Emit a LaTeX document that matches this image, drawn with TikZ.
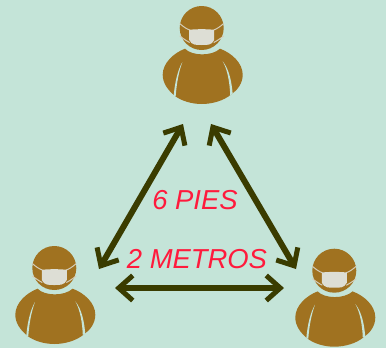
\documentclass[tikz,border=0pt]{standalone}
\usepackage{fontspec}
\setmainfont{Liberation Sans}
\usetikzlibrary{arrows.meta}
\definecolor{bgc}{HTML}{C4E4D8}
\definecolor{brownc}{HTML}{A07220}
\definecolor{maskc}{HTML}{DDDED5}
\definecolor{arrowc}{HTML}{3A3C00}
\definecolor{redc}{HTML}{FF1A3C}
\tikzset{
  x=1pt,y=-1pt,
  person/.pic={
    \fill[brownc] (0,0) circle[radius=22];
    \fill[brownc] (-16.7,20.7) .. controls (-10,28) and (10,28.5) .. (18.3,20.7)
      .. controls (30,25) and (41,35) .. (41,46.7)
      .. controls (41,55) and (36,62) .. (30,66)
      .. controls (22,73) and (10,76) .. (0,76)
      .. controls (-10,76) and (-20,73) .. (-26.7,68)
      .. controls (-34,62) and (-39,55) .. (-39,46.7)
      .. controls (-39,35) and (-28,25) .. (-16.7,20.7) -- cycle;
    \fill[bgc] (-19.3,34) .. controls (-24,42) and (-27,55) .. (-28,68)
      -- (-26,68) .. controls (-25,55) and (-23,44) .. (-19.3,34) -- cycle;
    \fill[bgc] (21,33.3) .. controls (26,42) and (28,55) .. (28.5,67)
      -- (31,66) .. controls (30,55) and (28,42) .. (21,33.3) -- cycle;
    \draw[maskc!85!brownc,line width=1pt] (-22,-4.5) .. controls (-18,-1) and (-15,1) .. (-12,2);
    \draw[maskc!85!brownc,line width=1pt] (-22,8) .. controls (-18,11) and (-15,13) .. (-12,14.5);
    \draw[maskc!85!brownc,line width=1pt] (22,-4.5) .. controls (18,-1) and (15,1) .. (12,2);
    \draw[maskc!85!brownc,line width=1pt] (22,8) .. controls (18,11) and (15,13) .. (12,14.5);
    \fill[maskc] (-12.5,1.8) .. controls (-5,1) and (5,1) .. (12.5,1.8)
      -- (12.5,12) .. controls (10,17.5) and (5,17) .. (0,17)
      .. controls (-5,17) and (-10,17.5) .. (-12.5,12) -- cycle;
  },
  gap/.style={line width=6pt,draw=arrowc,
    {Straight Barb[length=14pt,width=25pt,line width=5pt]}-{Straight Barb[length=14pt,width=25pt,line width=5pt]}},
  label/.style={text=redc,font=\fontsize{27.4}{30}\selectfont\itshape,inner sep=0pt},
}
\begin{document}
\begin{tikzpicture}
\useasboundingbox (0,0) rectangle (386,348);
\fill[bgc] (0,0) rectangle (386,348);
\pic at (201.7,28) {person};
\pic at (54.3,268) {person};
\pic at (334.3,270.7) {person};
\coordinate (tl) at (183,124);
\coordinate (tr) at (211,124);
\coordinate (bl) at (99,269);
\coordinate (br) at (296,269);
\coordinate (hl) at (115,288);
\coordinate (hr) at (284,288);
\draw[gap] (tl) -- (bl);
\draw[gap] (tr) -- (br);
\draw[gap] (hl) -- (hr);
\node[label] (six) at (195,200) {6 PIES};
\node[label] (two) at (197,259) {2 METROS};
\end{tikzpicture}
\end{document}
